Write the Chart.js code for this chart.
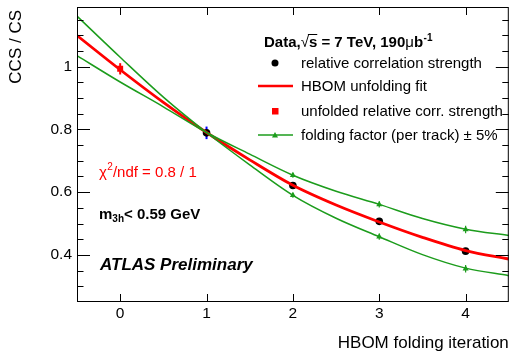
<!DOCTYPE html>
<html>
<head>
<meta charset="utf-8">
<script src="https://cdn.jsdelivr.net/npm/chart.js@4.4.1/dist/chart.umd.min.js"></script>
<style>
  html, body { margin: 0; padding: 0; background: #fff; }
  canvas { display: block; }
</style>
</head>
<body>
<canvas id="hbom" width="513" height="352"></canvas>
<script>
// measured relative correlation strength per folding iteration
var iterations = [1, 2, 3, 4];
var correlation = [0.789, 0.621, 0.507, 0.412];
var correlationErr = [0.020, 0, 0, 0];

// unfolded point (iteration 0)
var unfoldedX = [0];
var unfolded = [0.993];
var unfoldedErr = [0.018];

// folding factor +/- 5%
var foldX = [2, 3, 4];
var foldUp = [0.654, 0.561, 0.481];
var foldDown = [0.590, 0.458, 0.356];
var foldErr = [0.008, 0.010, 0.012];

// fit curves, sampled every half iteration
var curveX = [-0.5, 0, 0.5, 1, 1.5, 2, 2.5, 3, 3.5, 4, 4.5];
var fitCurve = [1.099, 0.990, 0.886, 0.790, 0.703, 0.622, 0.559, 0.505, 0.456, 0.414, 0.387];
var foldUpCurve = [1.035, 0.951, 0.872, 0.790, 0.721, 0.654, 0.603, 0.561, 0.516, 0.482, 0.462];
var foldDownCurve = [1.161, 1.030, 0.903, 0.790, 0.687, 0.590, 0.517, 0.458, 0.401, 0.358, 0.334];

var xTicks = [0, 1, 2, 3, 4];
var yTicks = [0.4, 0.6, 0.8, 1];

var RED = '#ff0000';
var GREEN = '#1c9c1c';
var BLUE = '#0000ff';
var FONT = 'Liberation Sans, Arial, Helvetica, sans-serif';

function pts(xs, ys) {
    return xs.map(function(x, i) { return { x: x, y: ys[i] }; });
}

function curve(ys, color, width) {
    return {
        type: 'line',
        data: pts(curveX, ys),
        borderColor: color,
        borderWidth: width,
        pointRadius: 0,
        showLine: true,
        cubicInterpolationMode: 'monotone',
        fill: false
    };
}

// no extra room for half labels, the frame is placed by layout padding
function noPad(s) {
    s.paddingTop = 0; s.paddingBottom = 0;
    s.paddingLeft = 0; s.paddingRight = 0;
}

// vertical error bars, drawn just before each dataset's markers
var errorBars = {
    id: 'errorBars',
    beforeDatasetDraw: function(chart, args) {
        var ds = chart.data.datasets[args.index];
        if (!ds.errors) return;
        var ctx = chart.ctx, ys = chart.scales.y, xs = chart.scales.x;
        ctx.save();
        ctx.strokeStyle = ds.errColor;
        ctx.lineWidth = ds.errWidth || 1.5;
        ds.data.forEach(function(p, i) {
            var e = ds.errors[i];
            if (!e) return;
            var px = xs.getPixelForValue(p.x);
            ctx.beginPath();
            ctx.moveTo(px, ys.getPixelForValue(p.y - e));
            ctx.lineTo(px, ys.getPixelForValue(p.y + e));
            ctx.stroke();
        });
        ctx.restore();
    }
};

// closed frame with inward ticks on all four sides
var frame = {
    id: 'frame',
    afterDraw: function(chart) {
        var ctx = chart.ctx, a = chart.chartArea;
        var xs = chart.scales.x, ys = chart.scales.y;
        ctx.save();
        ctx.strokeStyle = '#000';
        ctx.lineWidth = 1;
        ctx.strokeRect(a.left + 0.5, a.top + 0.5, a.right - a.left - 1, a.bottom - a.top - 1);
        ctx.beginPath();
        xTicks.forEach(function(v) {
            var px = Math.round(xs.getPixelForValue(v)) + 0.5;
            ctx.moveTo(px, a.bottom); ctx.lineTo(px, a.bottom - 8);
            ctx.moveTo(px, a.top); ctx.lineTo(px, a.top + 8);
        });
        for (var k = 6; k <= 23; k++) {
            var v = k * 0.05;
            if (v < ys.min || v > ys.max) continue;
            var major = (k % 4 === 0);
            var len = major ? 13 : 6.5;
            var py = Math.round(ys.getPixelForValue(v)) + 0.5;
            ctx.moveTo(a.left, py); ctx.lineTo(a.left + len, py);
            ctx.moveTo(a.right, py); ctx.lineTo(a.right - len, py);
        }
        ctx.stroke();
        ctx.restore();
    }
};

function piece(ctx, text, x, y, font, dy) {
    ctx.font = font;
    ctx.fillText(text, x, y + (dy || 0));
    return x + ctx.measureText(text).width;
}

function triangle(ctx, x, y, r) {
    ctx.beginPath();
    ctx.moveTo(x, y - r);
    ctx.lineTo(x + r, y + r * 0.8);
    ctx.lineTo(x - r, y + r * 0.8);
    ctx.closePath();
    ctx.fill();
}

// legend box and the text labels inside the frame
var annotations = {
    id: 'annotations',
    afterDraw: function(chart) {
        var ctx = chart.ctx;
        ctx.save();
        ctx.textBaseline = 'alphabetic';
        ctx.fillStyle = '#000';

        var b15 = 'bold 15px ' + FONT;
        var x = 264, y = 47;
        x = piece(ctx, 'Data,', x, y, b15);
        x = piece(ctx, '\u221A', x, y, '15px ' + FONT);
        var sx = x;
        x = piece(ctx, 's', x, y, b15);
        ctx.fillRect(sx - 1, y - 13, x - sx + 1, 1);
        x = piece(ctx, ' = 7 TeV, 190', x, y, b15);
        x = piece(ctx, '\u03BC', x, y, '15px ' + FONT);
        x = piece(ctx, 'b', x, y, b15);
        piece(ctx, '-1', x + 0.5, y, 'bold 10px ' + FONT, -6);

        var tx = 301, sxm = 275;
        var rows = [63, 86, 111, 135];
        var labels = ['relative correlation strength', 'HBOM unfolding fit',
                      'unfolded relative corr. strength', 'folding factor (per track) \u00B1 5%'];
        ctx.font = '15px ' + FONT;
        ctx.textBaseline = 'middle';
        labels.forEach(function(t, i) { ctx.fillText(t, tx, rows[i] + 1); });

        ctx.beginPath();
        ctx.arc(sxm, rows[0], 3.5, 0, Math.PI * 2);
        ctx.fill();

        ctx.strokeStyle = RED; ctx.lineWidth = 2.5;
        ctx.beginPath(); ctx.moveTo(258, rows[1]); ctx.lineTo(293, rows[1]); ctx.stroke();

        ctx.fillStyle = RED;
        ctx.fillRect(sxm - 3, rows[2] - 3, 6.5, 6.5);

        ctx.strokeStyle = GREEN; ctx.lineWidth = 1.5; ctx.fillStyle = GREEN;
        ctx.beginPath(); ctx.moveTo(258, rows[3]); ctx.lineTo(293, rows[3]); ctx.stroke();
        triangle(ctx, sxm, rows[3], 3);

        // fit quality and selection
        ctx.textBaseline = 'alphabetic';
        ctx.fillStyle = RED;
        x = piece(ctx, '\u03C7', 99, 177, '15px ' + FONT);
        x = piece(ctx, '2', x + 0.5, 177, '10px ' + FONT, -7);
        piece(ctx, '/ndf = 0.8 / 1', x, 177, '15px ' + FONT);

        ctx.fillStyle = '#000';
        x = piece(ctx, 'm', 99, 219, b15);
        x = piece(ctx, '3h', x, 219, 'bold 10px ' + FONT, 3);
        piece(ctx, '< 0.59 GeV', x, 219, b15);

        piece(ctx, 'ATLAS Preliminary', 100, 270, 'italic bold 17px ' + FONT);

        // y axis title, right-aligned to the top of the frame
        ctx.fillStyle = '#000';
        ctx.font = '17px ' + FONT;
        ctx.translate(16, 10);
        ctx.rotate(-Math.PI / 2);
        ctx.textAlign = 'right';
        ctx.textBaseline = 'middle';
        ctx.fillText('CCS / CS', 0, 0);
        ctx.restore();
    }
};

new Chart(document.getElementById('hbom'), {
    type: 'scatter',
    data: {
        datasets: [
            curve(foldUpCurve, GREEN, 1.5),
            curve(foldDownCurve, GREEN, 1.5),
            curve(fitCurve, RED, 2.8),
            {
                data: pts(foldX, foldUp),
                pointStyle: 'triangle', pointRadius: 3.5,
                backgroundColor: GREEN, borderColor: GREEN, borderWidth: 0,
                errors: foldErr, errColor: GREEN, errWidth: 1.2
            },
            {
                data: pts(foldX, foldDown),
                pointStyle: 'triangle', pointRadius: 3.5,
                backgroundColor: GREEN, borderColor: GREEN, borderWidth: 0,
                errors: foldErr, errColor: GREEN, errWidth: 1.2
            },
            {
                data: pts(iterations, correlation),
                pointStyle: 'circle', pointRadius: 3.8,
                backgroundColor: '#000', borderColor: '#000', borderWidth: 0,
                errors: correlationErr, errColor: BLUE, errWidth: 2
            },
            {
                data: pts(unfoldedX, unfolded),
                pointStyle: 'rect', pointRadius: 4.2,
                backgroundColor: RED, borderColor: RED, borderWidth: 0,
                errors: unfoldedErr, errColor: RED, errWidth: 2
            }
        ]
    },
    options: {
        responsive: false,
        animation: false,
        devicePixelRatio: 1,
        layout: { padding: { top: 7, right: 2, left: 0, bottom: 0 } },
        plugins: {
            legend: { display: false },
            tooltip: { enabled: false }
        },
        scales: {
            x: {
                type: 'linear',
                min: -0.5,
                max: 4.5,
                afterBuildTicks: function(s) { s.ticks = xTicks.map(function(v) { return { value: v }; }); },
                afterFit: function(s) { s.height = 50; noPad(s); },
                grid: { display: false, drawTicks: false },
                border: { display: false },
                ticks: {
                    color: '#000', padding: 2,
                    font: { family: FONT, size: 15.5 },
                    callback: function(v) { return String(v); }
                },
                title: {
                    display: true, text: 'HBOM folding iteration', align: 'end',
                    color: '#000', padding: 0,
                    font: { family: FONT, size: 17, lineHeight: 1 }
                }
            },
            y: {
                type: 'linear',
                min: 0.25,
                max: 1.19,
                afterBuildTicks: function(s) { s.ticks = yTicks.map(function(v) { return { value: v }; }); },
                afterFit: function(s) { s.width = 77; noPad(s); },
                grid: { display: false, drawTicks: false },
                border: { display: false },
                ticks: {
                    color: '#000', padding: 5,
                    font: { family: FONT, size: 15.5 },
                    callback: function(v) { return v === 1 ? '1' : v.toFixed(1); }
                }
            }
        }
    },
    plugins: [errorBars, frame, annotations]
});
</script>
</body>
</html>
